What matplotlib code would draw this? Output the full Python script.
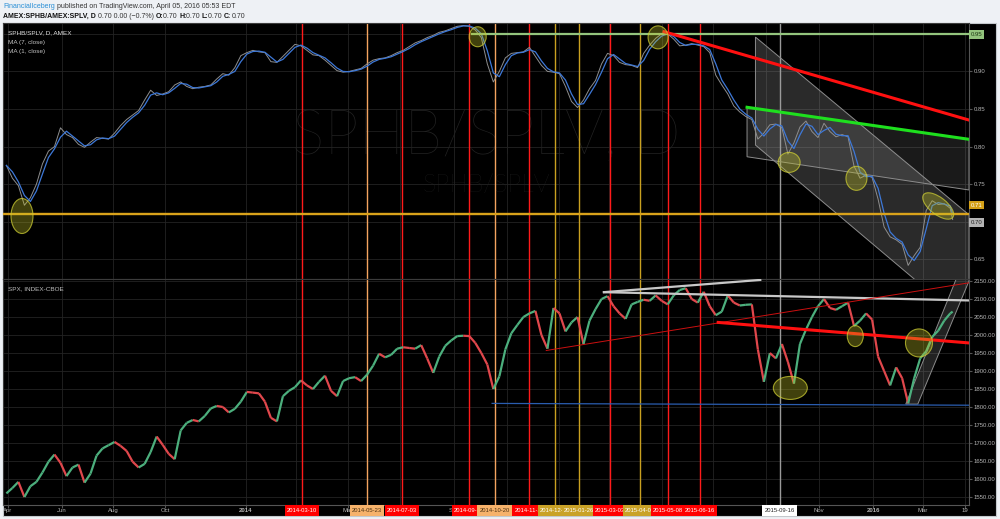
import numpy as np
import pandas as pd
import matplotlib
matplotlib.use('Agg')
from matplotlib import pyplot as plt
from matplotlib.patches import Ellipse, Polygon, Rectangle
from matplotlib.collections import LineCollection
import matplotlib.transforms as mtransforms

plt.rcParams['font.family'] = ['Liberation Sans', 'DejaVu Sans']

START = '2013-03-27'


def bx(d):
    # one bar per trading day -> business-day index on the x axis
    d = pd.DatetimeIndex(np.atleast_1d(pd.to_datetime(d)))
    out = np.busday_count(START, d.values.astype('datetime64[D]'))
    return out if len(out) > 1 else out[0]


# ---- data (weekly readings) ----
week_dates = pd.date_range('2013-03-29', periods=158, freq='W-FRI').append(pd.DatetimeIndex(['2016-04-05']))

ratio_close = [
    .775, .758, .748, .722, .732, .750, .777, .794, .800, .825,
    .816, .812, .803, .799, .806, .812, .811, .810, .818, .828,
    .836, .842, .848, .862, .875, .868, .870, .873, .882, .886,
    .880, .877, .879, .880, .882, .890, .897, .895, .905, .921,
    .925, .928, .926, .925, .913, .912, .920, .928, .936, .934,
    .928, .922, .921, .915, .908, .901, .899, .900, .902, .904,
    .910, .915, .917, .918, .921, .925, .928, .933, .938, .941,
    .945, .948, .952, .954, .957, .960, .961, .960, .955, .945,
    .910, .886, .900, .918, .924, .925, .926, .932, .920, .908,
    .900, .899, .897, .880, .860, .852, .862, .877, .888, .910,
    .924, .921, .912, .909, .908, .905, .924, .935, .944, .950,
    .950, .943, .934, .935, .937, .935, .933, .925, .895, .882,
    .870, .854, .846, .840, .836, .810, .818, .829, .830, .825,
    .790, .805, .826, .834, .820, .812, .831, .820, .813, .816,
    .813, .774, .758, .762, .759, .730, .693, .680, .676, .670,
    .642, .655, .666, .715, .728, .723, .724, .718, .703]

spx_close = [
    1560, 1575, 1592, 1550, 1580, 1592, 1618, 1648, 1668, 1645,
    1608, 1632, 1640, 1590, 1615, 1665, 1685, 1694, 1703, 1692,
    1678, 1648, 1632, 1642, 1675, 1718, 1695, 1670, 1655, 1735,
    1756, 1764, 1760, 1775, 1796, 1803, 1800, 1785, 1795, 1815,
    1842, 1840, 1838, 1815, 1770, 1760, 1830, 1845, 1855, 1874,
    1860, 1850, 1870, 1887, 1845, 1830, 1872, 1880, 1883, 1872,
    1890, 1915, 1948, 1938, 1945, 1962, 1966, 1964, 1962, 1972,
    1935, 1895, 1940, 1970, 1985, 1997, 1998, 1997, 1978, 1950,
    1918, 1850, 1885, 1960, 2005, 2028, 2050, 2060, 2067, 2000,
    1962, 2075, 2060, 2010, 2035, 2050, 1975, 2040, 2072, 2100,
    2108, 2080, 2060, 2045, 2085, 2092, 2098, 2095, 2110, 2095,
    2085, 2110, 2125, 2130, 2100, 2090, 2120, 2080, 2055, 2065,
    2110, 2090, 2082, 2084, 2085, 1960, 1870, 1950, 1935, 1975,
    1925, 1865, 1975, 2015, 2050, 2080, 2100, 2075, 2070, 2080,
    2090, 2025, 2040, 2060, 2043, 1940, 1900, 1860, 1910, 1880,
    1810, 1880, 1935, 1955, 1995, 2012, 2040, 2060, 2065]

mark_dates = ['2014-03-10', '2014-05-23', '2014-07-03', '2014-09-19', '2014-10-20',
              '2014-11-28', '2014-12-29', '2015-01-26', '2015-03-03', '2015-04-07',
              '2015-05-08', '2015-06-16', '2015-09-16']
mark_kinds = ['red', 'peach', 'red', 'red', 'peach', 'red', 'gold', 'gold', 'red',
              'gold', 'red', 'red', 'white']

tick_dates = ['2013-04-01', '2013-06-03', '2013-08-01', '2013-10-01', '2014-01-02',
              '2014-03-03', '2014-05-01', '2014-07-01', '2014-09-02', '2014-11-03',
              '2015-01-02', '2015-03-02', '2015-05-01', '2015-07-01', '2015-09-01',
              '2015-11-02', '2016-01-04', '2016-03-01', '2016-04-19']
tick_labels = ['Apr', 'Jun', 'Aug', 'Oct', '2014', 'Mar', 'May', 'Jul', 'Sep', 'Nov',
               '2015', 'Mar', 'May', 'Jul', 'Sep', 'Nov', '2016', 'Mar', '19']

ratio_ticks = [0.65, 0.70, 0.75, 0.80, 0.85, 0.90, 0.95]
spx_ticks = list(range(1550, 2151, 50))

# ---- styles ----
KIND = {
    'red': ('#ff1a1a', '#ff0000', 'white'),
    'peach': ('#f4a460', '#f6b26b', '#4a3010'),
    'gold': ('#c9a020', '#c9a227', 'white'),
    'white': ('#9a9a9a', '#ffffff', '#222222'),
}
GRID = '#232323'
AXTXT = '#b4b4b4'
FLAG_W = 28.4  # flag width in bars

W, H = 1000, 519
fig = plt.figure(figsize=(W / 100, H / 100), dpi=100, facecolor='#eef1f5')


def fx(px):
    return px / W


def fy(py):
    return 1 - py / H


fig.patches.append(Rectangle((fx(3), fy(516)), fx(996) - fx(3), fy(23) - fy(516),
                             transform=fig.transFigure, fc='black', ec='#c4c8cc', lw=0.8, zorder=-1))

ax_top = fig.add_axes([fx(3), fy(279), fx(969) - fx(3), fy(23) - fy(279)])
ax_bot = fig.add_axes([fx(3), fy(505), fx(969) - fx(3), fy(279) - fy(505)])

X0 = bx(START) - 0.8
X_END = bx('2016-04-25') - 0.4
xt = bx(tick_dates)

for ax in (ax_top, ax_bot):
    ax.set_facecolor('black')
    ax.set_xlim(X0, X_END)
    ax.set_xticks(xt)
    ax.grid(True, color=GRID, lw=0.6, zorder=0)
    ax.set_axisbelow(True)
    for s in ax.spines.values():
        s.set_color('#3c3c3c')
        s.set_linewidth(0.8)
    ax.spines['right'].set_color('#555555')
    ax.yaxis.tick_right()
    ax.tick_params(axis='y', labelsize=4.3, labelcolor=AXTXT, color='#555555', length=2, pad=1.5)
    for d, k in zip(mark_dates, mark_kinds):
        ax.axvline(bx(d), color=KIND[k][0], lw=1.0, zorder=1.8)

ax_top.set_ylim(0.6239, 0.9644)
ax_top.set_yticks(ratio_ticks)
# 0.95 and 0.70 sit under the coloured price boxes
ax_top.set_yticklabels(['' if v in (0.70, 0.95) else '%.2f' % v for v in ratio_ticks])
ax_top.tick_params(axis='x', length=0, labelbottom=False)

ax_bot.set_ylim(1527.8, 2155.6)
ax_bot.set_yticks(spx_ticks)
ax_bot.set_yticklabels(['%.2f' % v for v in spx_ticks])
ax_bot.tick_params(axis='x', color='#555555', length=2, labelbottom=False)
ax_bot.spines['bottom'].set_color('#555555')

# ---- watermark ----
ax_top.text(0.5, 0.555, 'SPHB/SPLV, D', transform=ax_top.transAxes, ha='center', va='center',
            fontsize=44, color='#222222', family=['Lato', 'DejaVu Sans'], fontweight='light', zorder=0.5)
ax_top.text(0.5, 0.367, 'SPHB/SPLV', transform=ax_top.transAxes, ha='center', va='center',
            fontsize=18, color='#222222', family=['Lato', 'DejaVu Sans'], fontweight='light', zorder=0.5)

# ---- SPHB/SPLV series ----
xw = bx(week_dates)
ratio = pd.Series(ratio_close)
ax_top.plot(xw, ratio, color='#8e8e8e', lw=0.7, zorder=3)
ax_top.plot(xw, ratio.rolling(2, min_periods=1).mean(), color='#3d78d8', lw=0.9, zorder=3.1)

# drawings on the ratio pane
chanA = Polygon([(bx('2015-08-19'), 0.9457), (X_END, 0.7093), (X_END, 0.5624), (bx('2015-08-19'), 0.8021)],
                closed=True, fc=(0.62, 0.62, 0.62, 0.27), ec='#8c8c8c', lw=0.7, zorder=2.5)
chanB = Polygon([(bx('2015-08-10'), 0.8523), (X_END, 0.8097), (X_END, 0.7423), (bx('2015-08-10'), 0.7865)],
                closed=True, fc=(0.62, 0.62, 0.62, 0.17), ec='#8c8c8c', lw=0.7, zorder=2.5)
ax_top.add_patch(chanA)
ax_top.add_patch(chanB)
ax_top.plot([bx('2014-09-23'), X_END], [0.95, 0.95], color='#93c47d', lw=1.6, zorder=4)
ax_top.axhline(0.711, color='#d9a21b', lw=1.7, zorder=4)
ax_top.plot([bx('2015-05-05'), X_END], [0.9528, 0.8353], color='#ff1010', lw=2.2, zorder=5)
ax_top.plot([bx('2015-08-10'), X_END], [0.8523, 0.8097], color='#1ee01e', lw=2.2, zorder=5)


def blob(ax, date, val, w, h, angle=0):
    tr = fig.dpi_scale_trans + mtransforms.ScaledTranslation(bx(date), val, ax.transData)
    ax.add_patch(Ellipse((0, 0), w / 100, h / 100, angle=angle, transform=tr,
                         fc=(0.78, 0.78, 0.16, 0.33), ec=(0.8, 0.8, 0.2, 0.75), lw=0.8, zorder=6))


blob(ax_top, '2013-04-17', 0.7077, 22, 35)
blob(ax_top, '2014-09-30', 0.9461, 17, 20)
blob(ax_top, '2015-04-28', 0.9453, 20, 23)
blob(ax_top, '2015-09-28', 0.779, 22, 20)
blob(ax_top, '2015-12-15', 0.7578, 21, 24)
blob(ax_top, '2016-03-18', 0.721, 37, 17, angle=-38)

# price boxes on the right scale
ytr = mtransforms.blended_transform_factory(ax_top.transAxes, ax_top.transData)
for val, txt, bg, fg in [(0.949, '0.95', '#93c47d', '#1e3a14'),
                         (0.7223, '0.71', '#d4a017', 'white'),
                         (0.6988, '0.70', '#b4b4b4', '#222222')]:
    ax_top.text(1.002, val, txt, transform=ytr, ha='left', va='center', fontsize=4.3, color=fg,
                bbox=dict(boxstyle='square,pad=0.3', fc=bg, ec='none'), clip_on=False, zorder=8)

# ---- SPX pane ----
pts = np.column_stack([xw, spx_close])
segs = np.stack([pts[:-1], pts[1:]], axis=1)
up = np.diff(spx_close) >= 0
ax_bot.add_collection(LineCollection(segs, colors=np.where(up, '#4caf7d', '#e0474c'), linewidths=1.6, zorder=3))

ax_bot.plot([bx('2015-02-24'), bx('2015-08-25')], [2119, 2153], color='#c8c8c8', lw=1.6, zorder=4)
ax_bot.plot([bx('2015-02-24'), X_END], [2119, 2096], color='#c8c8c8', lw=1.6, zorder=4)
ax_bot.plot([bx('2014-12-18'), X_END], [1957, 2145], color='#cc1010', lw=0.7, zorder=4)
ax_bot.plot([bx('2015-07-07'), X_END], [2035, 1978], color='#ff1010', lw=2.2, zorder=5)
ax_bot.plot([bx('2014-10-16'), X_END], [1810, 1805], color='#2a5db0', lw=0.9, zorder=4)
rise = Polygon([(bx('2016-02-10'), 1808), (bx('2016-04-08'), 2156), (X_END, 2156), (X_END, 2150),
                (bx('2016-02-24'), 1808)], closed=True, fc=(0.62, 0.62, 0.62, 0.22), ec='#8c8c8c', lw=0.7, zorder=2.5)
ax_bot.add_patch(rise)

blob(ax_bot, '2015-09-29', 1853, 34, 23)
blob(ax_bot, '2015-12-14', 1997, 16, 21)
blob(ax_bot, '2016-02-25', 1978, 27, 28)

# ---- time scale: month labels, then date flags drawn over them ----
btr = mtransforms.blended_transform_factory(ax_bot.transData, ax_bot.transAxes)
yb = -(516 - 505) / 226
flag_x = [bx(d) for d in mark_dates]
flag_left = [x - FLAG_W / 2 for x in flag_x]

for x, lab in zip(xt, tick_labels):
    # a flag that covers the label centre hides it; one that starts inside it cuts it
    right = min([fl for fl in flag_left if fl > x - 4] + [X_END + 20])
    if right < x - 4 + 1.5 or any(fl <= x - 4 < fl + FLAG_W for fl in flag_left):
        continue
    t = ax_bot.text(x, yb / 2, lab, transform=btr, ha='center', va='center', fontsize=4.3, color=AXTXT,
                    fontweight='bold' if len(lab) == 4 else 'normal', zorder=9)
    t.set_clip_box(mtransforms.TransformedBbox(mtransforms.Bbox([[x - 20, yb], [right, 0]]), btr))
    t.set_clip_on(True)

for i, (x, d, k) in enumerate(zip(flag_x, mark_dates, mark_kinds)):
    ax_bot.add_patch(Rectangle((x - FLAG_W / 2, yb), FLAG_W, -yb, transform=btr, fc=KIND[k][1], ec='none',
                               clip_on=False, zorder=10 + i))
    right = x + FLAG_W / 2
    if i + 1 < len(flag_x):
        right = min(right, flag_left[i + 1])
    t = ax_bot.text(x, yb / 2, d, transform=btr, ha='center', va='center', fontsize=4.2, color=KIND[k][2],
                    zorder=10.5 + i)
    t.set_clip_box(mtransforms.TransformedBbox(mtransforms.Bbox([[x - FLAG_W / 2, yb], [right, 0]]), btr))
    t.set_clip_on(True)

# ---- texts ----
fig.text(fx(8), fy(33), 'SPHB/SPLV, D, AMEX', fontsize=4.6, color='#e0e0e0', va='center')
fig.text(fx(8), fy(42.5), 'MA (7, close)', fontsize=4.6, color='#c0c0c0', va='center')
fig.text(fx(8), fy(52), 'MA (1, close)', fontsize=4.6, color='#c0c0c0', va='center')
fig.text(fx(8), fy(288.5), 'SPX, INDEX-CBOE', fontsize=4.6, color='#c0c0c0', va='center')

hdr = fig.add_axes([0, 0, 1, 1])
hdr.axis('off')
hdr.patch.set_visible(False)


def chain(parts, px, py, size):
    t = None
    for s, c, w in parts:
        if t is None:
            t = hdr.text(fx(px), fy(py), s, color=c, fontweight=w, fontsize=size, va='center', ha='left',
                         transform=fig.transFigure)
        else:
            t = hdr.annotate(s, xy=(1, 0.5), xycoords=t, color=c, fontweight=w, fontsize=size,
                             va='center', ha='left')


chain([('FinancialIceberg', '#2a8fd6', 'normal'),
       (' published on TradingView.com, April 05, 2016 05:53 EDT', '#333333', 'normal')], 3, 6, 5.0)
chain([('AMEX:SPHB/AMEX:SPLV, D', '#111111', 'bold'), (' 0.70 0.00 (\u22120.7%) ', '#333333', 'normal'),
       ('O:', '#111111', 'bold'), ('0.70 ', '#333333', 'normal'), ('H:', '#111111', 'bold'),
       ('0.70 ', '#333333', 'normal'), ('L:', '#111111', 'bold'), ('0.70 ', '#333333', 'normal'),
       ('C:', '#111111', 'bold'), ('0.70', '#333333', 'normal')], 3, 16, 5.0)

plt.savefig('out.png', dpi=100, facecolor=fig.get_facecolor())
